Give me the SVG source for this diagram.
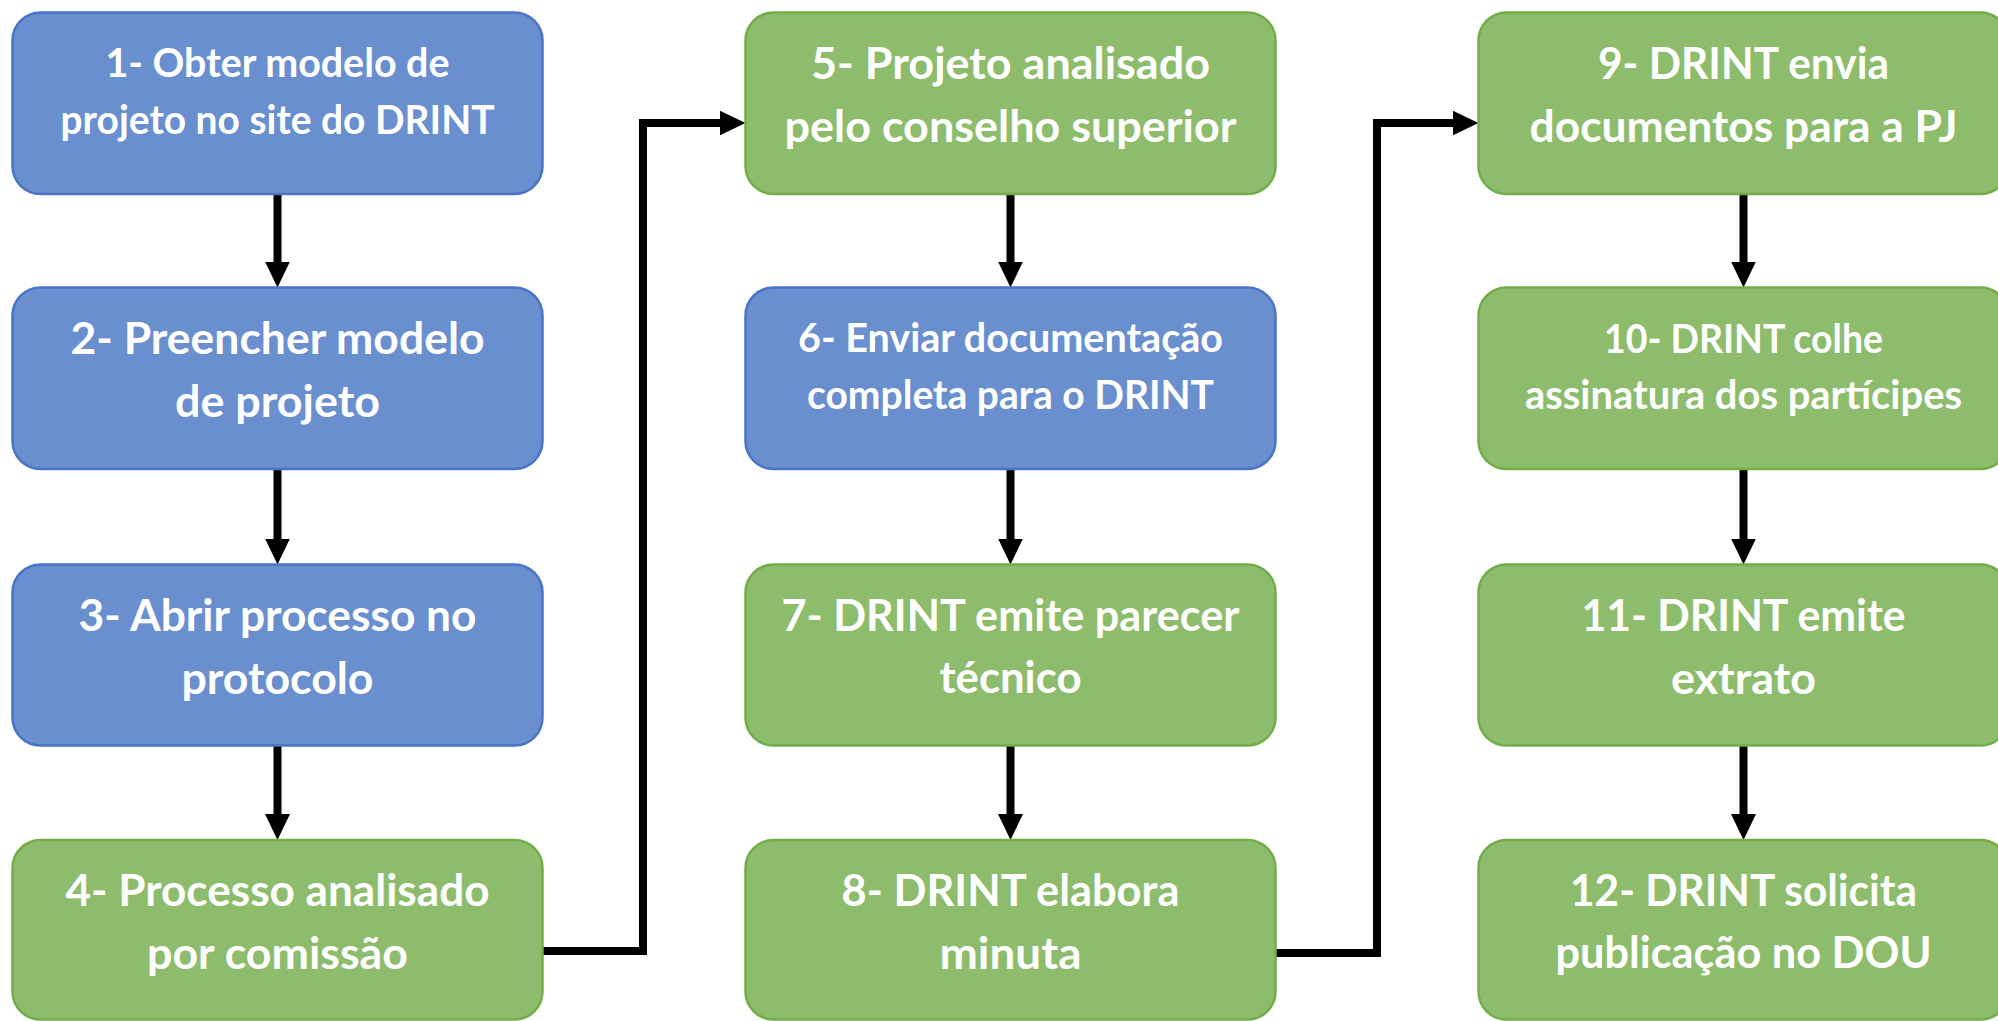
<svg xmlns="http://www.w3.org/2000/svg" width="1998" height="1021" viewBox="0 0 1998 1021">
<style>
.blue rect{fill:#6A8FCF;stroke:#4A74C4;stroke-width:2.5}
.green rect{fill:#8DBD6C;stroke:#72AD4A;stroke-width:2.5}
text{font-family:Lato,"Liberation Sans",sans-serif;font-weight:bold;fill:#FFFFFF;text-anchor:middle}
.L{font-size:44.5px}
.S{font-size:39.5px}
.conn path{fill:none;stroke:#000000;stroke-width:8;stroke-linejoin:miter}
</style>
<defs>
<marker id="ah" markerUnits="userSpaceOnUse" markerWidth="26" markerHeight="25" refX="6" refY="12.5" orient="auto" viewBox="0 0 26 25">
<path d="M0,0 L26,12.5 L0,25 Z" fill="#000000"/>
</marker>
</defs>
<rect width="1998" height="1021" fill="#FFFFFF"/>
<g class="conn" id="connectors">
<path d="M277.5,194 V267.5" marker-end="url(#ah)"/>
<path d="M277.5,469 V544.5" marker-end="url(#ah)"/>
<path d="M277.5,745.5 V820" marker-end="url(#ah)"/>
<path d="M543,951 H643 V123 H725.5" marker-end="url(#ah)"/>
<path d="M1010.5,194 V267.5" marker-end="url(#ah)"/>
<path d="M1010.5,469 V544.5" marker-end="url(#ah)"/>
<path d="M1010.5,745.5 V820" marker-end="url(#ah)"/>
<path d="M1276,953 H1377 V123 H1458.5" marker-end="url(#ah)"/>
<path d="M1743.5,194 V267.5" marker-end="url(#ah)"/>
<path d="M1743.5,469 V544.5" marker-end="url(#ah)"/>
<path d="M1743.5,745.5 V820" marker-end="url(#ah)"/>
</g>
<g id="n1" class="blue"><rect x="12.5" y="12.5" width="530" height="181.5" rx="28"/>
<text class="S" x="277.5" y="77" textLength="344" lengthAdjust="spacingAndGlyphs">1- Obter modelo de</text>
<text class="S" x="277.5" y="134" textLength="434" lengthAdjust="spacingAndGlyphs">projeto no site do DRINT</text></g>
<g id="n2" class="blue"><rect x="12.5" y="287.5" width="530" height="181.5" rx="28"/>
<text class="L" x="277.5" y="354" textLength="414" lengthAdjust="spacingAndGlyphs">2- Preencher modelo</text>
<text class="L" x="277.5" y="417" textLength="205" lengthAdjust="spacingAndGlyphs">de projeto</text></g>
<g id="n3" class="blue"><rect x="12.5" y="564.5" width="530" height="181" rx="28"/>
<text class="L" x="277.5" y="631" textLength="398" lengthAdjust="spacingAndGlyphs">3- Abrir processo no</text>
<text class="L" x="277.5" y="694" textLength="192" lengthAdjust="spacingAndGlyphs">protocolo</text></g>
<g id="n4" class="green"><rect x="12.5" y="840" width="530" height="179.5" rx="28"/>
<text class="L" x="277.5" y="906" textLength="424" lengthAdjust="spacingAndGlyphs">4- Processo analisado</text>
<text class="L" x="277.5" y="969" textLength="261" lengthAdjust="spacingAndGlyphs">por comissão</text></g>
<g id="n5" class="green"><rect x="745.5" y="12.5" width="530" height="181.5" rx="28"/>
<text class="L" x="1010.5" y="79" textLength="399" lengthAdjust="spacingAndGlyphs">5- Projeto analisado</text>
<text class="L" x="1010.5" y="142" textLength="452" lengthAdjust="spacingAndGlyphs">pelo conselho superior</text></g>
<g id="n6" class="blue"><rect x="745.5" y="287.5" width="530" height="181.5" rx="28"/>
<text class="S" x="1010.5" y="352" textLength="425" lengthAdjust="spacingAndGlyphs">6- Enviar documentação</text>
<text class="S" x="1010.5" y="409" textLength="407" lengthAdjust="spacingAndGlyphs">completa para o DRINT</text></g>
<g id="n7" class="green"><rect x="745.5" y="564.5" width="530" height="181" rx="28"/>
<text class="L" x="1010.5" y="631" textLength="458" lengthAdjust="spacingAndGlyphs">7- DRINT emite parecer</text>
<text class="L" x="1010.5" y="693" textLength="142" lengthAdjust="spacingAndGlyphs">técnico</text></g>
<g id="n8" class="green"><rect x="745.5" y="840" width="530" height="179.5" rx="28"/>
<text class="L" x="1010.5" y="906" textLength="338" lengthAdjust="spacingAndGlyphs">8- DRINT elabora</text>
<text class="L" x="1010.5" y="969" textLength="142" lengthAdjust="spacingAndGlyphs">minuta</text></g>
<g id="n9" class="green"><rect x="1478.5" y="12.5" width="530" height="181.5" rx="28"/>
<text class="L" x="1743.5" y="79" textLength="291" lengthAdjust="spacingAndGlyphs">9- DRINT envia</text>
<text class="L" x="1743.5" y="142" textLength="428" lengthAdjust="spacingAndGlyphs">documentos para a PJ</text></g>
<g id="n10" class="green"><rect x="1478.5" y="287.5" width="530" height="181.5" rx="28"/>
<text class="S" x="1743.5" y="352.5" textLength="279" lengthAdjust="spacingAndGlyphs">10- DRINT colhe</text>
<text class="S" x="1743.5" y="408.5" textLength="437" lengthAdjust="spacingAndGlyphs">assinatura dos partícipes</text></g>
<g id="n11" class="green"><rect x="1478.5" y="564.5" width="530" height="181" rx="28"/>
<text class="L" x="1743.5" y="631" textLength="324" lengthAdjust="spacingAndGlyphs">11- DRINT emite</text>
<text class="L" x="1743.5" y="694" textLength="145" lengthAdjust="spacingAndGlyphs">extrato</text></g>
<g id="n12" class="green"><rect x="1478.5" y="840" width="530" height="179.5" rx="28"/>
<text class="L" x="1743.5" y="906" textLength="347" lengthAdjust="spacingAndGlyphs">12- DRINT solicita</text>
<text class="L" x="1743.5" y="968" textLength="376" lengthAdjust="spacingAndGlyphs">publicação no DOU</text></g>
</svg>
